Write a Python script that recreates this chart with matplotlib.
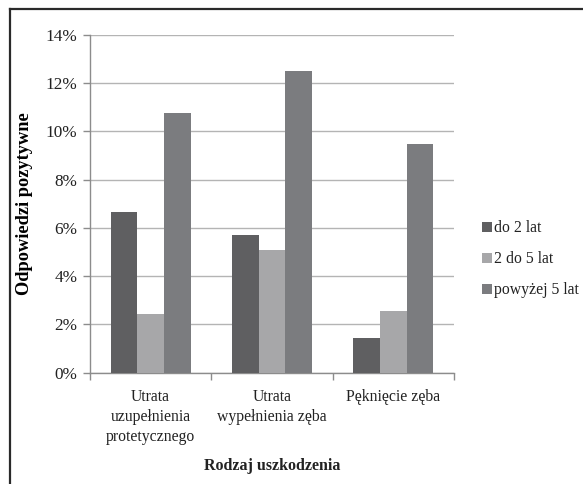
import numpy as np
import matplotlib
matplotlib.use('Agg')
import matplotlib.pyplot as plt
from matplotlib.lines import Line2D
from matplotlib.ticker import FuncFormatter, MultipleLocator

plt.rcParams.update({
    'font.family': ['Liberation Serif', 'DejaVu Serif'],
    'axes.edgecolor': '#8c8c8c',
    'text.color': '#222222',
    'xtick.color': '#8c8c8c',
    'ytick.color': '#8c8c8c',
    'xtick.labelcolor': '#222222',
    'ytick.labelcolor': '#222222',
})

# ---------- Data ----------
categories = ['Utrata\nuzupełnienia\nprotetycznego', 'Utrata\nwypełnienia zęba', 'Pęknięcie zęba']
series_names = ['do 2 lat', '2 do 5 lat', 'powyżej 5 lat']
do_2_lat = [6.65, 5.70, 1.45]
od_2_do_5_lat = [2.43, 5.09, 2.56]
powyzej_5_lat = [10.78, 12.52, 9.48]
series_values = [do_2_lat, od_2_do_5_lat, powyzej_5_lat]
series_colors = ['#5f5f61', '#a7a7a9', '#7b7c7f']

# ---------- Figure ----------
fig = plt.figure(figsize=(5.83, 4.84), dpi=100)
ax = fig.add_axes([90 / 583, 1 - 372.7 / 484, 364 / 583, 337.7 / 484])

x = np.arange(len(categories))
width = 0.22
for i, (vals, col) in enumerate(zip(series_values, series_colors)):
    ax.bar(x + (i - 1) * width, vals, width, color=col, label=series_names[i], zorder=3)

ax.set_xlim(-0.5, 2.5)
ax.set_ylim(0, 14)
ax.yaxis.set_major_locator(MultipleLocator(2))
ax.yaxis.set_major_formatter(FuncFormatter(lambda v, _: f'{v:.0f}%'))
ax.grid(axis='y', color='#b4b4b4', linewidth=1.0, zorder=0)
ax.set_axisbelow(True)

for side in ['top', 'right']:
    ax.spines[side].set_visible(False)
ax.spines['left'].set_linewidth(1.0)
ax.spines['bottom'].set_linewidth(1.0)

# category labels at centres, tick marks at group boundaries
ax.set_xticks(x)
ax.set_xticklabels(categories, fontsize=11.3, linespacing=1.3, va='top')
ax.tick_params(axis='x', which='major', length=0, pad=12)
ax.set_xticks(np.arange(-0.5, 3.0, 1.0), minor=True)
ax.tick_params(axis='x', which='minor', length=5, width=1.0, direction='out')
ax.tick_params(axis='y', length=5, width=1.0, direction='out', pad=4, labelsize=12.4)

ax.set_ylabel('Odpowiedzi pozytywne', fontsize=13.2, fontweight='bold', labelpad=9)
fig.text(272 / 583, 1 - 466 / 484, 'Rodzaj uszkodzenia', fontsize=11.5,
         fontweight='bold', ha='center', va='center')

fig.legend(loc='upper left', bbox_to_anchor=(476 / 583, 1 - 214 / 484),
           frameon=False, fontsize=11.3, handlelength=0.6, handleheight=0.6,
           handletextpad=0.15, labelspacing=0.95, borderaxespad=0)

# outer frame (top and left edges)
fig.add_artist(Line2D([10 / 583, 1.0], [1 - 8.5 / 484, 1 - 8.5 / 484],
                      transform=fig.transFigure, color='#2a2a2a', linewidth=1.6))
fig.add_artist(Line2D([10 / 583, 10 / 583], [0, 1 - 8.5 / 484],
                      transform=fig.transFigure, color='#2a2a2a', linewidth=1.6))

fig.savefig('out.png', dpi=100, facecolor='white')
